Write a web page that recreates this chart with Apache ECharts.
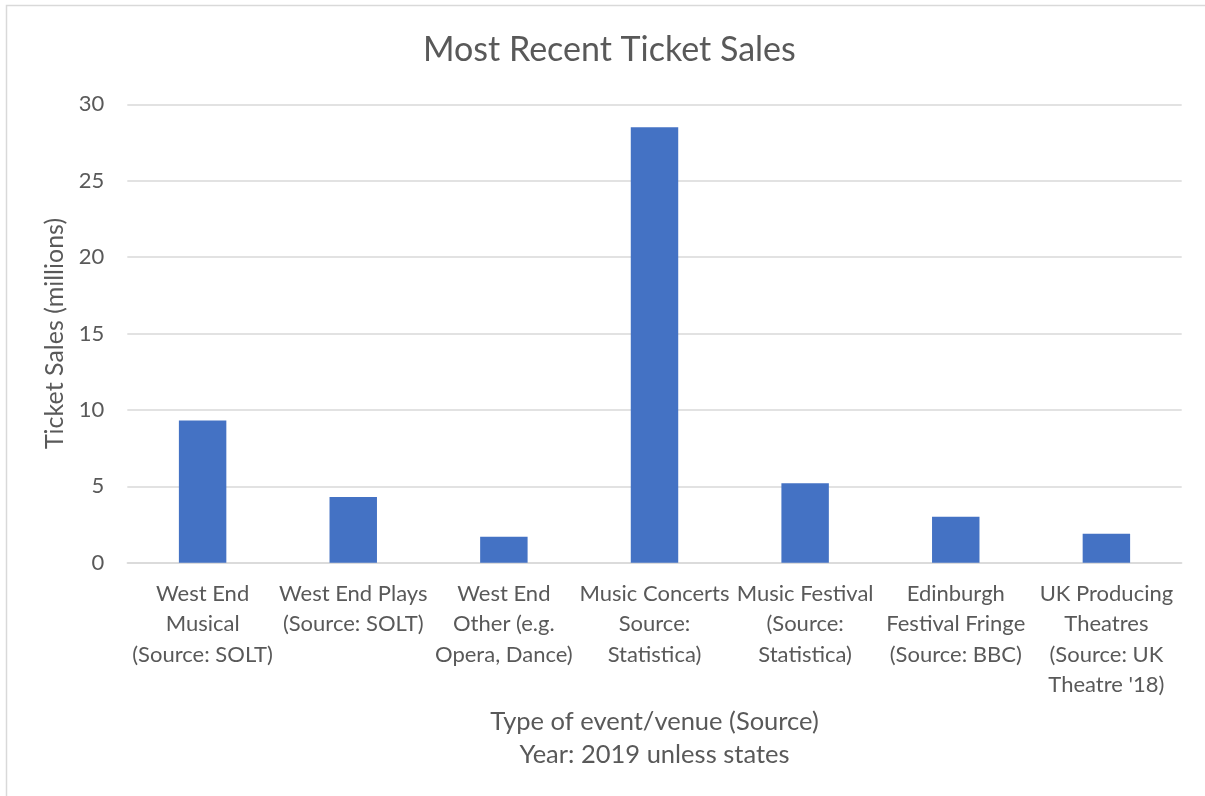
<!DOCTYPE html>
<html>
<head>
<meta charset="utf-8">
<script src="https://cdn.jsdelivr.net/npm/echarts@6/dist/echarts.min.js"></script>
<style>
  html, body { margin: 0; padding: 0; background: #fff; }
  #chart { width: 1205px; height: 796px; }
</style>
</head>
<body>
<div id="chart"></div>
<script>
// Event categories (wrapped as they appear under the axis)
const categories = [
  'West End\nMusical\n(Source: SOLT)',
  'West End Plays\n(Source: SOLT)',
  'West End\nOther (e.g.\nOpera, Dance)',
  'Music Concerts\nSource:\nStatistica)',
  'Music Festival\n(Source:\nStatistica)',
  'Edinburgh\nFestival Fringe\n(Source: BBC)',
  'UK Producing\nTheatres\n(Source: UK\nTheatre \'18)'
];
// Ticket sales in millions
const ticketSales = [9.3, 4.3, 1.7, 28.5, 5.2, 3.0, 1.9];

const textColor = '#595959';
const gridColor = '#D9D9D9';
const fontFamily = 'Lato, "Open Sans", sans-serif';

const chart = echarts.init(document.getElementById('chart'), null, { renderer: 'canvas' });
chart.setOption({
  backgroundColor: '#ffffff',
  animation: false,
  graphic: [{
    type: 'rect',
    shape: { x: 6.5, y: 5.5, width: 1400, height: 1000 },
    style: { fill: 'none', stroke: gridColor, lineWidth: 1.5 },
    silent: true,
    z: -1
  }],
  title: {
    text: 'Most Recent Ticket Sales',
    left: 418,
    top: 28,
    textStyle: { color: textColor, fontFamily, fontSize: 34, fontWeight: 'normal' }
  },
  grid: { left: 127.3, right: 23.3, top: 104.3, bottom: 233.3, containLabel: false },
  xAxis: {
    type: 'category',
    data: categories,
    name: 'Type of event/venue (Source)\nYear: 2019 unless states',
    nameLocation: 'middle',
    nameGap: 141,
    nameTextStyle: { color: textColor, fontFamily, fontSize: 25.5, lineHeight: 33 },
    axisLine: { show: true, lineStyle: { color: gridColor, width: 1.5 } },
    axisTick: { show: false },
    axisLabel: {
      color: textColor, fontFamily, fontSize: 22, lineHeight: 30.5,
      margin: 15.5, interval: 0, verticalAlign: 'top'
    }
  },
  yAxis: {
    type: 'value',
    min: 0, max: 30, interval: 5,
    name: 'Ticket Sales (millions)',
    nameLocation: 'middle',
    nameRotate: 90,
    nameGap: 58,
    nameTextStyle: { color: textColor, fontFamily, fontSize: 25 },
    axisLine: { show: false },
    axisTick: { show: false },
    axisLabel: { color: textColor, fontFamily, fontSize: 22, margin: 23 },
    splitLine: { lineStyle: { color: gridColor, width: 1.5 } }
  },
  series: [{
    type: 'bar',
    data: ticketSales,
    barCategoryGap: '68.5%',
    itemStyle: { color: '#4472C4' }
  }]
});
</script>
</body>
</html>
